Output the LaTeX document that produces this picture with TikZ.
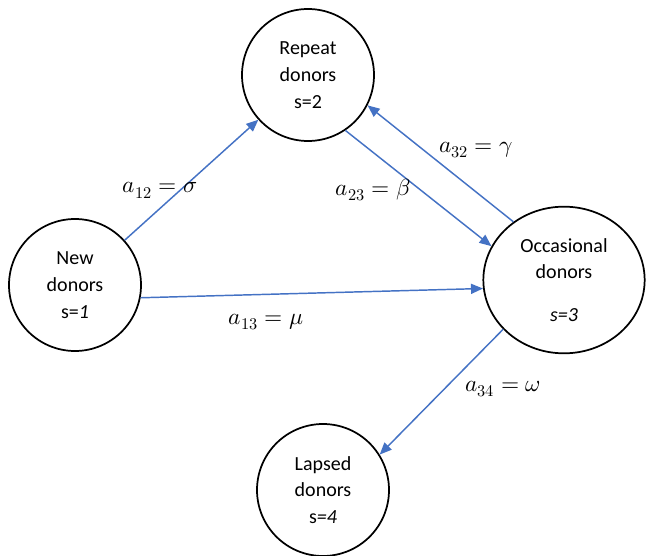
\documentclass[tikz,border=0pt]{standalone}
\usepackage{fontspec}
\usepackage{unicode-math}
\setmainfont{Carlito}
\setmathfont{Latin Modern Math}
\usetikzlibrary{arrows.meta,shapes.geometric}
\definecolor{arrowblue}{HTML}{4472C4}
\tikzset{
  state/.style={draw=black, line width=1.3pt, circle, minimum size=99pt, inner sep=0pt, align=center,
    font=\fontsize{15}{20}\selectfont},
  ostate/.style={draw=black, line width=1.3pt, ellipse, minimum width=121pt, minimum height=110pt, inner sep=0pt, align=center,
    font=\fontsize{15}{20}\selectfont},
  flow/.style={draw=arrowblue, line width=1.1pt, -{Triangle[length=9pt,width=7.5pt]}},
  rate/.style={font=\fontsize{17.5}{20}\selectfont, inner sep=0pt}
}
\begin{document}
\begin{tikzpicture}[x=0.75pt,y=-0.75pt]
\useasboundingbox (0,0) rectangle (646,556);
\node[state] (r) at (308,75) {Repeat\\donors\\s=2};
\node[state] (n) at (75,285) {New\\donors\\s=\textit{1}};
\node[ostate] (o) at (564,280) {Occasional\\donors\\[12pt]\textit{s=3}};
\node[state] (l) at (323,490) {Lapsed\\donors\\s\textit{=4}};
\draw[flow] (n) -- (r);
\draw[flow] (n.-11) -- (o.186);
\draw[flow] (r.-56) -- (o.155);
\draw[flow] (o.131) -- (r.-27);
\draw[flow] (o.219) -- (l.32);
\node[rate] (l12) at (160,190) {$a_{12}=\sigma$};
\node[rate] (l23) at (373,190) {$a_{23}=\beta$};
\node[rate] (l32) at (476,150) {$a_{32}=\gamma$};
\node[rate] (l13) at (266,322) {$a_{13}=\mu$};
\node[rate] (l34) at (503,389) {$a_{34}=\omega$};
\end{tikzpicture}
\end{document}
